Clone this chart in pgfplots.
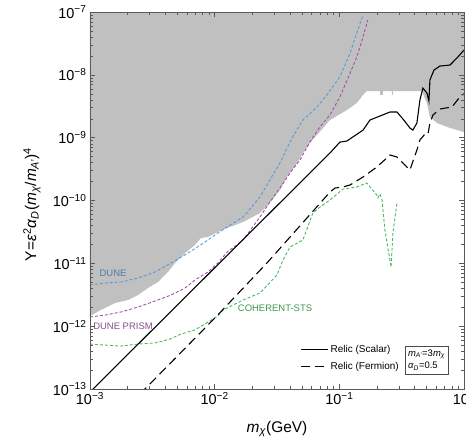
\documentclass[border=0pt]{standalone}
\usepackage{fontspec}
\setmainfont{Liberation Sans}
\usepackage{pgfplots}
\pgfplotsset{compat=1.18}
\definecolor{grayfill}{RGB}{192,192,192}
\definecolor{duneblue}{RGB}{90,155,210}
\definecolor{dunepurple}{RGB}{160,80,165}
\definecolor{cohgreen}{RGB}{70,185,95}
\definecolor{duneblueT}{RGB}{75,125,170}
\definecolor{dunepurpleT}{RGB}{140,75,140}
\definecolor{cohgreenT}{RGB}{60,150,80}
\begin{document}
\begin{tikzpicture}
\begin{axis}[
  at={(0,0)}, anchor=south west,
  scale only axis, width=374bp, height=377bp,
  xmode=log, ymode=log,
  xmin=1e-3, xmax=1, ymin=1e-13, ymax=1e-7,
  axis line style={black!65},
  every tick/.style={black!65},
  major tick length=5bp, minor tick length=3bp,
  xtick={1e-3,1e-2,1e-1,1},
  xticklabels={10\textsuperscript{−3},10\textsuperscript{−2},10\textsuperscript{−1},10\textsuperscript{0}},
  ytick={1e-13,1e-12,1e-11,1e-10,1e-9,1e-8,1e-7},
  yticklabels={10\textsuperscript{−13},10\textsuperscript{−12},10\textsuperscript{−11},10\textsuperscript{−10},10\textsuperscript{−9},10\textsuperscript{−8},10\textsuperscript{−7}},
  tick label style={font=\fontsize{14.5}{16}\selectfont},
  xlabel={\textit{m}\textsubscript{\textit{χ}}(GeV)},
  xlabel style={font=\fontsize{15.5}{17}\selectfont, at={(rel axis cs:0.5,0)}, anchor=center, yshift=-40bp},
  ylabel={Y=\textit{ε}\textsuperscript{2}\textit{α}\textsubscript{\textit{D}}(\textit{m}\textsubscript{\textit{χ}}/\textit{m}\textsubscript{\textit{A'}})\textsuperscript{4}},
  ylabel style={font=\fontsize{15.5}{17}\selectfont, at={(rel axis cs:0,0.49)}, anchor=center, yshift=58bp},
  legend style={draw=none, fill=none, font=\fontsize{10}{12}\selectfont, at={(rel axis cs:0.56,0.124)}, anchor=north west, row sep=4bp, inner sep=1pt},
  legend cell align=left,
  legend image code/.code={\draw[#1] (0bp,0bp) -- (27bp,0bp);},
  clip=true,
  axis on top=true,
]
% excluded region
\addplot[fill=grayfill, draw=none, forget plot] coordinates {
(1e-3,1e-7)(1e-3,1.45e-12)(1.22e-3,1.81e-12)(1.59e-3,2.34e-12)(2.02e-3,2.61e-12)(2.43e-3,3.13e-12)
(2.92e-3,4.05e-12)(3.51e-3,5.04e-12)(4.22e-3,7.28e-12)(4.81e-3,1.01e-11)(5.78e-3,1.46e-11)
(6.95e-3,1.96e-11)(7.76e-3,2.53e-11)(8.83e-3,2.62e-11)(1.06e-2,3.15e-11)(1.26e-2,3.65e-11)
(1.69e-2,4.55e-11)(2.31e-2,6.33e-11)(2.77e-2,9.12e-11)(3.34e-2,1.47e-10)(3.80e-2,2.37e-10)
(4.57e-2,3.95e-10)(5.10e-2,5.70e-10)(5.81e-2,8.22e-10)(8.41e-2,1.91e-9)(0.115,2.75e-9)
(0.138,3.56e-9)(0.155,4.78e-9)(0.166,5.53e-9)(0.212,5.53e-9)(0.212,4.78e-9)(0.224,4.78e-9)(0.224,5.53e-9)
(0.264,5.53e-9)(0.264,4.78e-9)(0.269,4.78e-9)(0.269,5.53e-9)(0.459,5.53e-9)(0.504,3.56e-9)
(0.533,2.13e-9)(0.607,1.71e-9)(0.771,1.43e-9)(1,1.23e-9)(1,1e-7)
} -- cycle;
% DUNE
\addplot[duneblue, line width=0.9pt, dash pattern=on 3pt off 2pt, forget plot] coordinates {
(1e-3,4.52e-12)(1.32e-3,4.87e-12)(1.77e-3,5.05e-12)(2.43e-3,5.84e-12)(3.32e-3,7.28e-12)
(4.47e-3,1.01e-11)(6.11e-3,1.46e-11)(8.36e-3,2.18e-11)(1.06e-2,3.04e-11)(1.26e-2,3.79e-11)
(1.69e-2,5.46e-11)(2.31e-2,1.14e-10)(2.77e-2,2.12e-10)(3.34e-2,3.95e-10)(4.17e-2,9.89e-10)
(5.10e-2,1.91e-9)(6.61e-2,3.08e-9)(7.94e-2,4.78e-9)(0.101,9.23e-9)(0.122,2.22e-8)(0.138,4.64e-8)(0.155,8.96e-8)
};
% DUNE PRISM
\addplot[dunepurple, line width=0.9pt, dash pattern=on 3pt off 2pt, forget plot] coordinates {
(1e-3,1.40e-12)(1.32e-3,1.50e-12)(1.77e-3,1.68e-12)(2.43e-3,2.02e-12)(3.32e-3,2.51e-12)
(4.47e-3,3.13e-12)(5.78e-3,4.05e-12)(6.95e-3,5.43e-12)(8.83e-3,7.28e-12)(1.06e-2,1.01e-11)
(1.26e-2,1.51e-11)(1.69e-2,2.35e-11)(2.31e-2,5.46e-11)(2.77e-2,9.46e-11)(3.34e-2,1.58e-10)
(4.02e-2,2.74e-10)(4.83e-2,4.42e-10)(5.81e-2,8.53e-10)(6.99e-2,1.48e-9)(8.41e-2,2.30e-9)
(0.101,4.44e-9)(0.122,1.07e-8)(0.138,1.92e-8)(0.155,4.0e-8)(0.169,7.46e-8)
};
% COHERENT-STS
\addplot[cohgreen, line width=0.9pt, dash pattern=on 3pt off 2pt, forget plot] coordinates {
(1e-3,5.2e-13)(1.32e-3,5.0e-13)(1.77e-3,4.83e-13)(2.43e-3,5.2e-13)(3.32e-3,5.4e-13)
(4.38e-3,6.24e-13)(5.37e-3,7.5e-13)(6.95e-3,8.7e-13)(8.83e-3,1.16e-12)(1.06e-2,1.45e-12)
(1.17e-2,1.81e-12)(1.69e-2,2.61e-12)(2.31e-2,3.37e-12)(3.16e-2,6.52e-12)(3.53e-2,1.13e-11)
(4.02e-2,1.82e-11)(5.10e-2,2.35e-11)(6.14e-2,6.33e-11)(6.99e-2,7.87e-11)(8.41e-2,1.02e-10)
(0.107,1.52e-10)(0.138,1.64e-10)(0.166,1.90e-10)(0.200,1.22e-10)(0.204,1.10e-10)(0.212,1.27e-10)
(0.220,1.02e-10)(0.232,3.39e-11)(0.260,8.73e-12)(0.269,3.04e-11)(0.290,9.12e-11)
};
% Relic scalar
\addplot[black, line width=1.1pt] coordinates {
(1e-3,8.95e-14)(8.41e-2,5.70e-10)(0.101,8.5e-10)(0.115,8.85e-10)(0.155,1.32e-9)(0.176,1.91e-9)
(0.255,2.56e-9)(0.290,2.56e-9)(0.324,1.98e-9)(0.368,1.43e-9)(0.389,1.32e-9)(0.419,1.71e-9)
(0.443,3.97e-9)(0.468,6.17e-9)(0.504,5.14e-9)(0.523,3.83e-9)(0.533,8.28e-9)(0.574,1.19e-8)
(0.641,1.38e-8)(0.771,1.43e-8)(0.877,1.85e-8)(1,2.48e-8)
};
\addlegendentry{Relic (Scalar)}
% Relic fermion
\addplot[black, line width=1.1pt, dash pattern=on 9pt off 5pt] coordinates {
(2.52e-3,8.3e-14)(2.76e-3,1e-13)(1.04e-2,1.45e-12)(2.67e-2,1.05e-11)(8.41e-2,1.36e-10)
(9.23e-2,1.58e-10)(0.107,1.64e-10)(0.122,1.77e-10)(0.155,2.37e-10)(0.200,3.41e-10)
(0.255,5.3e-10)(0.290,4.92e-10)(0.318,4.1e-10)(0.368,3.06e-10)(0.419,6.37e-10)(0.443,9.18e-10)
(0.486,1.14e-9)(0.514,1.14e-9)(0.533,1.71e-9)(0.564,2.3e-9)(0.641,2.86e-9)(0.80,3.08e-9)
(0.927,4.44e-9)(1.02,5.14e-9)
};
\addlegendentry{Relic (Fermion)}
\node[font=\fontsize{9.5}{11}\selectfont, text=duneblueT] at (axis cs:1.53e-3,7.0e-12) {DUNE};
\node[font=\fontsize{9.5}{11}\selectfont, text=dunepurpleT] at (axis cs:1.84e-3,1.0e-12) {DUNE PRISM};
\node[font=\fontsize{9.5}{11}\selectfont, text=cohgreenT] at (axis cs:3.05e-2,1.95e-12) {COHERENT-STS};
\node[draw=black!70, fill=white, align=left, font=\fontsize{9.5}{12.5}\selectfont, inner xsep=3bp, inner ysep=4bp]
  at (rel axis cs:0.90,0.077) {\textit{m}\textsubscript{\textit{A'}}=3\textit{m}\textsubscript{\textit{χ}}\\ \textit{α}\textsubscript{\textit{D}}=0.5};
\end{axis}
\pgfresetboundingbox
\useasboundingbox (-90bp,-48bp) rectangle (376bp,389bp);
\end{tikzpicture}
\end{document}
